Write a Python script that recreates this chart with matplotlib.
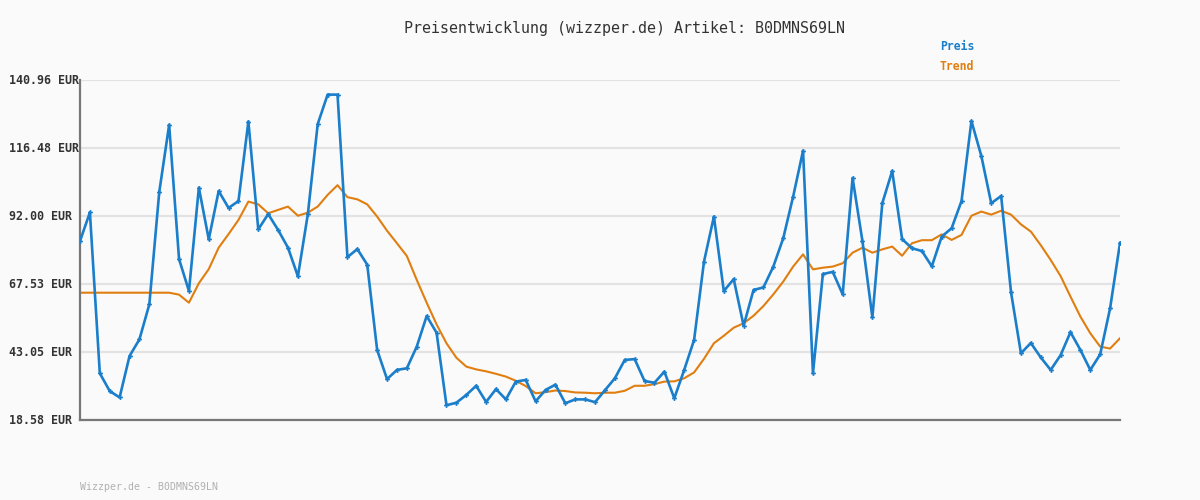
import matplotlib
matplotlib.use("Agg")
import matplotlib.pyplot as plt
from matplotlib.transforms import blended_transform_factory

preis = [83.0, 93.3, 35.4, 29.0, 26.7, 41.6, 47.6, 60.2, 100.6, 124.8,
         76.5, 65.0, 102.2, 83.6, 101.0, 94.9, 97.4, 126.0, 87.2, 92.7,
         87.0, 80.6, 70.3, 92.6, 125.1, 135.7, 135.7, 77.2, 80.1, 74.5,
         43.8, 33.3, 36.6, 37.2, 45.0, 56.0, 50.0, 23.9, 24.8, 27.6,
         30.9, 25.1, 29.7, 26.0, 32.4, 33.0, 25.3, 29.4, 31.3, 24.6,
         26.0, 26.0, 25.0, 29.3, 33.6, 40.2, 40.5, 32.6, 32.0, 36.0,
         26.4, 36.6, 47.4, 75.6, 91.8, 65.0, 69.3, 52.5, 65.4, 66.3,
         73.8, 84.0, 99.0, 115.5, 35.4, 71.1, 71.9, 63.8, 105.7, 82.9,
         55.5, 96.6, 108.2, 83.7, 80.4, 79.4, 73.9, 84.6, 87.6, 97.4,
         126.2, 113.6, 96.6, 99.2, 64.5, 42.6, 46.3, 41.1, 36.6, 41.9,
         50.2, 43.8, 36.6, 42.2, 58.8, 82.3]

trend = [64.4, 64.4, 64.4, 64.4, 64.4, 64.4, 64.4, 64.4, 64.4, 64.4,
         63.7, 60.8, 67.8, 72.9, 80.6, 85.5, 90.6, 97.2, 96.2, 93.0,
         94.2, 95.4, 92.1, 93.2, 95.4, 99.6, 103.1, 98.8, 98.0, 96.2,
         91.8, 86.7, 82.2, 77.6, 69.0, 60.8, 53.0, 46.2, 41.0, 37.8,
         36.8, 36.1, 35.2, 34.2, 32.7, 30.8, 28.2, 28.6, 29.2, 29.0,
         28.5, 28.4, 28.2, 28.4, 28.4, 29.1, 30.9, 30.9, 31.5, 32.4,
         32.5, 33.6, 35.7, 40.6, 46.2, 48.9, 51.8, 53.4, 56.1, 59.6,
         63.8, 68.4, 73.8, 78.2, 72.8, 73.4, 73.8, 75.0, 78.8, 80.6,
         78.8, 80.0, 81.0, 77.7, 82.2, 83.3, 83.3, 85.4, 83.4, 85.2,
         92.1, 93.6, 92.5, 93.9, 92.5, 89.0, 86.4, 81.5, 76.2, 70.4,
         63.0, 55.8, 49.8, 45.0, 44.3, 48.0]

yticks = [18.58, 43.05, 67.53, 92.00, 116.48, 140.96]
ytick_labels = ["18.58 EUR", "43.05 EUR", "67.53 EUR", "92.00 EUR", "116.48 EUR", "140.96 EUR"]

title = "Preisentwicklung (wizzper.de) Artikel: B0DMNS69LN"
footer = "Wizzper.de - B0DMNS69LN"

BG = "#fafafa"
BLUE = "#1a7ecb"
ORANGE = "#e07e10"

fig = plt.figure(figsize=(12, 5), dpi=100, facecolor=BG)
ax = fig.add_axes([80/1200, 80/500, 1040/1200, 340/500])
ax.set_facecolor(BG)

x = list(range(len(preis)))
for yv in yticks:
    ax.axhline(yv, color="#e3e3e3", lw=1.6, zorder=0)

ax.plot(x, trend, color=ORANGE, lw=1.5, zorder=2)
ax.plot(x, preis, color=BLUE, lw=1.9, marker="P", ms=3.5, mew=0, zorder=3)

ax.set_xlim(0, len(preis) - 1)
ax.set_ylim(yticks[0], yticks[-1])
ax.set_yticks(yticks)
ax.set_yticklabels([])
ax.tick_params(axis="y", length=0)
ax.set_xticks([])
for s in ["top", "right"]:
    ax.spines[s].set_visible(False)
for s in ["left", "bottom"]:
    ax.spines[s].set_color("#777777")
    ax.spines[s].set_linewidth(1.6)

trans = blended_transform_factory(fig.transFigure, ax.transData)
for yv, lab in zip(yticks, ytick_labels):
    fig.text(9/1200, yv, lab, transform=trans, ha="left", va="center",
             family="DejaVu Sans Mono", fontsize=8.4, fontweight="bold",
             color="#333333")

fig.text(624/1200, 1 - 28/500, title, ha="center", va="center",
         family="DejaVu Sans Mono", fontsize=10.8, color="#333333")
fig.text(940/1200, 1 - 47/500, "Preis", ha="left", va="center",
         family="DejaVu Sans Mono", fontsize=8.3, fontweight="bold", color=BLUE)
fig.text(940/1200, 1 - 67/500, "Trend", ha="left", va="center",
         family="DejaVu Sans Mono", fontsize=8.3, fontweight="bold", color=ORANGE)
fig.text(80/1200, 1 - 487/500, footer, ha="left", va="center",
         family="DejaVu Sans Mono", fontsize=7.1, color="#b0b0b0")

fig.savefig("out.png", dpi=100, facecolor=BG)
